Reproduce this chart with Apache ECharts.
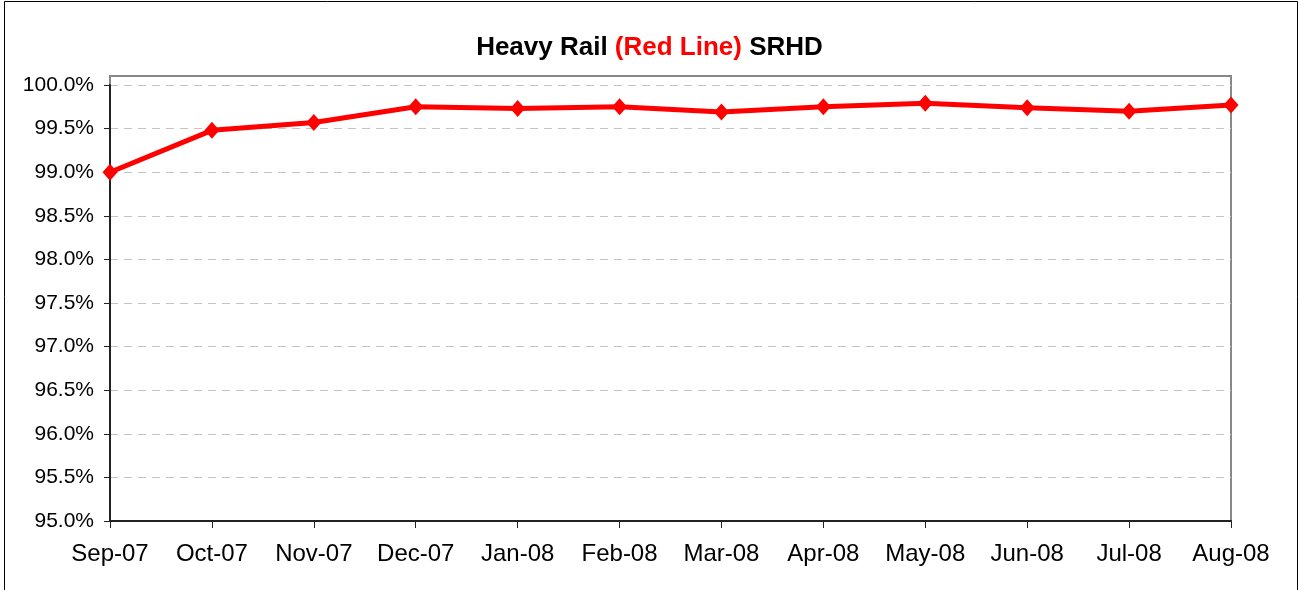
<!DOCTYPE html>
<html>
<head>
<meta charset="utf-8">
<script src="https://cdn.jsdelivr.net/npm/echarts@6/dist/echarts.min.js"></script>
<style>
  html, body { margin: 0; padding: 0; background: #fff; }
  #chart { width: 1299px; height: 590px; }
</style>
</head>
<body>
<div id="chart"></div>
<script>
// Monthly SRHD percentage, Heavy Rail (Red Line)
const months = ['Sep-07', 'Oct-07', 'Nov-07', 'Dec-07', 'Jan-08', 'Feb-08',
                'Mar-08', 'Apr-08', 'May-08', 'Jun-08', 'Jul-08', 'Aug-08'];
const srhd = [99.00, 99.48, 99.57, 99.75, 99.73, 99.75,
              99.69, 99.75, 99.79, 99.74, 99.70, 99.77];
const yMin = 95.0;
const yMax = 100.0;
const yStep = 0.5;

// Plot-area geometry (pixels)
const plotLeft = 110, plotRight = 68, plotTop = 85, plotBottom = 69;
const frameExtra = 9; // plot frame rises slightly above the 100% line

const W = 1299, H = 590;
const chart = echarts.init(document.getElementById('chart'), null, { renderer: 'canvas' });

const FONT = '"Liberation Sans", Arial, Helvetica, sans-serif';

chart.setOption({
  backgroundColor: '#ffffff',
  animation: false,
  title: {
    text: '{b|Heavy Rail }{r|(Red Line)}{b| SRHD}',
    left: 'center',
    top: 30,
    textStyle: {
      rich: {
        b: { fontFamily: FONT, fontWeight: 'bold', fontSize: 26, color: '#000' },
        r: { fontFamily: FONT, fontWeight: 'bold', fontSize: 26, color: '#ff0000' }
      }
    }
  },
  graphic: [
    {
      type: 'rect',
      z: 0,
      silent: true,
      shape: { x: 4.5, y: 1.5, width: W - 6, height: H + 10 },
      style: { fill: null, stroke: '#000', lineWidth: 1 }
    },
    {
      type: 'rect',
      z: 1,
      silent: true,
      shape: {
        x: plotLeft,
        y: plotTop - frameExtra,
        width: W - plotLeft - plotRight,
        height: H - plotBottom - plotTop + frameExtra
      },
      style: { fill: null, stroke: '#888888', lineWidth: 2 }
    }
  ],
  grid: {
    left: plotLeft,
    right: plotRight,
    top: plotTop,
    bottom: plotBottom,
    containLabel: false
  },
  xAxis: {
    type: 'category',
    data: months,
    boundaryGap: false,
    z: 5,
    axisLine: { show: true, lineStyle: { color: '#222', width: 2 } },
    axisTick: { show: true, alignWithLabel: true, length: 7, lineStyle: { color: '#222', width: 1 } },
    axisLabel: {
      interval: 0,
      margin: 21,
      fontFamily: FONT,
      fontSize: 24,
      color: '#000'
    },
    splitLine: { show: false }
  },
  yAxis: {
    type: 'value',
    min: yMin,
    max: yMax,
    interval: yStep,
    z: 5,
    axisLine: { show: true, lineStyle: { color: '#222', width: 2 } },
    axisTick: { show: true, inside: false, length: 6, lineStyle: { color: '#222', width: 1 } },
    axisLabel: {
      margin: 16,
      fontFamily: FONT,
      fontSize: 21,
      color: '#000',
      formatter: v => v.toFixed(1) + '%'
    },
    splitLine: {
      show: true,
      lineStyle: { color: '#c4c4c4', width: 1, type: [8, 6] }
    }
  },
  series: [
    {
      type: 'line',
      data: srhd,
      z: 10,
      clip: false,
      symbol: 'diamond',
      symbolSize: [15, 17],
      showAllSymbol: true,
      lineStyle: { color: '#ff0000', width: 5 },
      itemStyle: { color: '#ff0000' }
    }
  ]
});
</script>
</body>
</html>
